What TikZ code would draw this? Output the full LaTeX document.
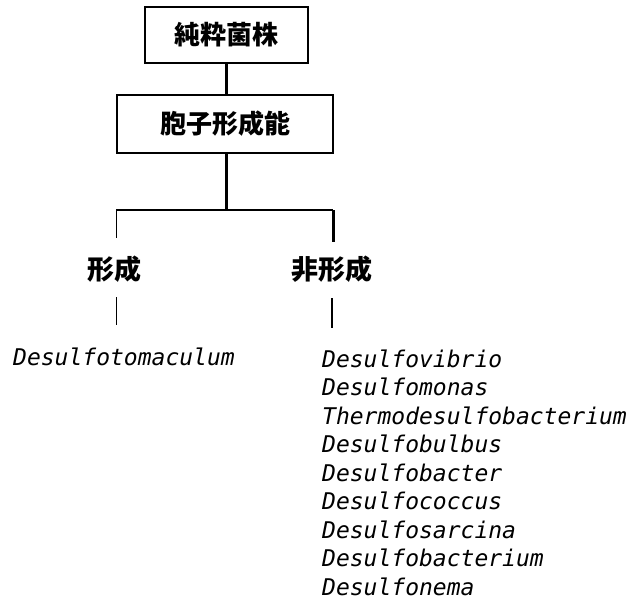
\documentclass[tikz,border=0pt]{standalone}
\usepackage{fontspec}
\newfontfamily\cjk{Noto Sans CJK JP}
\newfontfamily\monofam{DejaVu Sans Mono}
\begin{document}
\begin{tikzpicture}[x=1pt,y=-1pt,
  box/.style={draw,line width=2pt,inner sep=0pt,font=\cjk\bfseries\fontsize{26}{30}\selectfont},
  jtext/.style={inner sep=0pt,font=\cjk\bfseries\fontsize{27}{30}\selectfont},
  genus/.style={inner sep=0pt,anchor=base west,font=\monofam\itshape\fontsize{23}{28}\selectfont},
  thin/.style={line width=1pt},
  mid/.style={line width=1.6pt},
  thick/.style={line width=3pt}]
\useasboundingbox (0,0) rectangle (632,602);
\node[box,minimum width=163pt,minimum height=56pt] (b1) at (226.5,35) {純粋菌株};
\node[box,minimum width=216pt,minimum height=58pt] (b2) at (225,124) {胞子形成能};
\node[jtext] (f1) at (114,269) {形成};
\node[jtext] (f2) at (332,269) {非形成};
\coordinate (j) at (226.5,210);
\coordinate (jl) at (116,210);
\coordinate (jr) at (333,210);
\coordinate (el) at (116,238);
\coordinate (er) at (333,242);
\coordinate (tl) at (116,297);
\coordinate (ul) at (116,325);
\coordinate (tr) at (332,298);
\coordinate (ur) at (332,328);
\draw[thick] (b1.south) -- (b1.south |- b2.north);
\draw[thick] (j |- b2.south) -- (j);
\draw[mid] (j) -- (jl);
\draw[line width=2.5pt] (j) -- (jr);
\draw[thin] (jl) -- (el);
\draw[thick] (jr) -- (er);
\draw[thin] (tl) -- (ul);
\draw[mid] (tr) -- (ur);
\node[genus] (g0) at (13,365) {Desulfotomaculum};
\foreach \t [count=\i from 0] in {Desulfovibrio,Desulfomonas,Thermodesulfobacterium,Desulfobulbus,Desulfobacter,Desulfococcus,Desulfosarcina,Desulfobacterium,Desulfonema}
  \node[genus] (g\i r) at (322,367+28.5*\i) {\t};
\end{tikzpicture}
\end{document}
